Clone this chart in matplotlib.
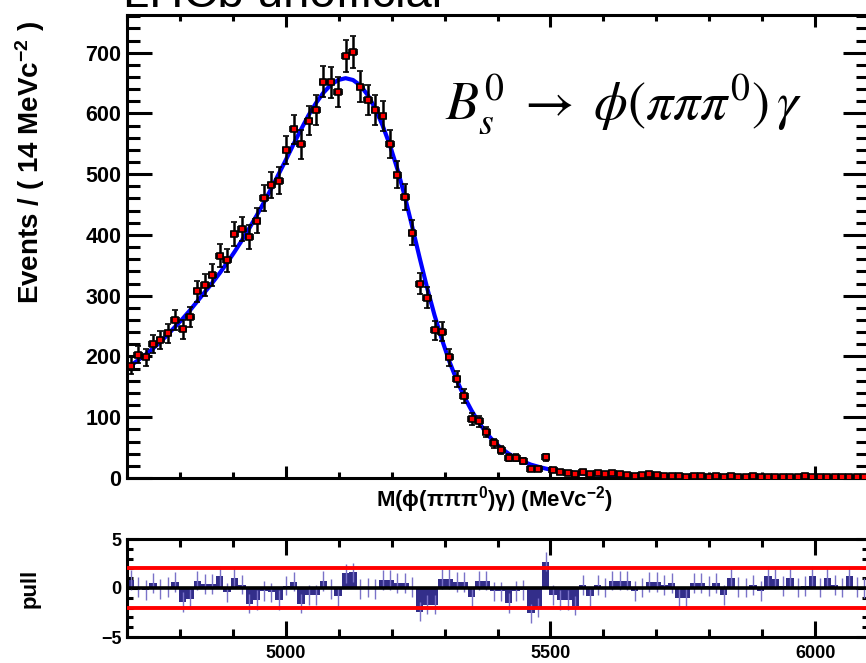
import matplotlib
matplotlib.use('Agg')
import matplotlib.pyplot as plt
import numpy as np
from matplotlib.ticker import MultipleLocator

# 100 bins of 14 MeV between 4700 and 6100
m_lo, m_hi, bin_w = 4700, 6100, 14

counts = [185, 203, 199, 221, 227, 238, 260, 245, 265, 307,
          318, 334, 366, 358, 402, 410, 397, 423, 461, 482,
          489, 540, 574, 549, 588, 606, 652, 651, 635, 694,
          701, 644, 622, 605, 596, 550, 499, 462, 404, 320,
          297, 243, 241, 199, 163, 135, 97, 93, 76, 57,
          46, 33, 33, 28, 15, 15, 34, 13, 10, 9,
          6, 10, 7, 8, 7, 8, 7, 5, 4, 5,
          6, 5, 3, 4, 3, 2, 4, 3, 2, 3,
          2, 3, 2, 1, 3, 2, 1, 2, 2, 1,
          2, 3, 2, 1, 2, 1, 2, 1, 1, 2]

fit = [185, 194, 203, 213, 224, 236, 249, 262, 276, 291,
       306, 321, 337, 354, 372, 391, 411, 432, 454, 477,
       501, 525, 550, 574, 597, 617, 634, 647, 655, 658,
       655, 646, 630, 608, 580, 547, 508, 463, 413, 362,
       313, 268, 228, 192, 161, 134, 111, 91, 74, 60,
       49, 40, 33, 27, 22, 18.5, 15.5, 13, 11, 9.5,
       8.3, 7.3, 6.5, 5.8, 5.2, 4.7, 4.3, 3.9, 3.6, 3.3,
       3.1, 2.9, 2.7, 2.5, 2.4, 2.2, 2.1, 2.0, 1.9, 1.8,
       1.7, 1.6, 1.55, 1.5, 1.45, 1.4, 1.35, 1.3, 1.25, 1.2,
       1.15, 1.1, 1.1, 1.05, 1.0, 1.0, 0.95, 0.95, 0.9, 0.9]

pulls = [0.8, 0.1, -0.2, 0.5, -0.1, 0.1, 0.6, -1.4, -1.1, 0.75,
         0.4, 0.4, 1.2, -0.45, 1.0, 0.35, -1.6, -1.2, -0.3, -0.45,
         -1.2, 0.25, 0.65, -1.6, -0.7, -0.7, 0.7, -0.1, -0.85, 1.5,
         1.6, -0.1, 0.05, -0.1, 0.8, 0.8, 0.5, 0.5, 0.1, -2.4,
         -1.7, -1.7, 0.9, 0.9, 0.6, 0.6, -0.9, 0.75, 0.75, -0.35,
         -0.35, -1.5, -0.3, -0.2, -2.6, -2.0, 2.7, -0.7, -1.2, -1.2,
         -1.8, 0.3, -0.85, 0.3, 0.05, 0.75, 0.75, 0.75, -0.3, 0.05,
         0.6, 0.6, 0.3, 0.5, -1.0, -1.0, 0.5, 0.5, 0.2, 0.5,
         -0.7, 1.0, 0.1, 0.05, 0.3, -0.3, 1.2, 0.9, 0.2, 1.0,
         0.05, 0.2, 1.2, 0.05, 1.0, 0.3, 0.05, 1.2, 0.1, 0.0]

counts = np.array(counts, dtype=float)
pulls = np.array(pulls)
centers = m_lo + bin_w * (np.arange(len(counts)) + 0.5)

plt.rcParams['font.family'] = ['Liberation Sans', 'DejaVu Sans']
plt.rcParams['mathtext.fontset'] = 'custom'
plt.rcParams['mathtext.rm'] = 'Liberation Sans:bold'
plt.rcParams['mathtext.it'] = 'Liberation Sans:bold'
plt.rcParams['mathtext.bf'] = 'Liberation Sans:bold'

W, H = 866, 663
fig = plt.figure(figsize=(W / 100, H / 100), dpi=100)
ax = fig.add_axes([127 / W, 185 / H, 741 / W, 463 / H])
ax2 = fig.add_axes([127 / W, 26 / H, 741 / W, 98 / H])

# main panel
ax.plot(centers, fit, color='blue', lw=3, zorder=2)
ax.errorbar(centers, counts, yerr=np.sqrt(counts), xerr=bin_w / 2, fmt='s',
            ms=4.5, mfc='red', mec='black', mew=1.2, ecolor='black',
            elinewidth=1.8, capsize=2.5, capthick=1.8, zorder=3)
ax.set_xlim(m_lo, m_hi)
ax.set_ylim(0, 762)
ax.yaxis.set_major_locator(MultipleLocator(100))
ax.yaxis.set_minor_locator(MultipleLocator(20))
ax.xaxis.set_major_locator(MultipleLocator(500))
ax.xaxis.set_minor_locator(MultipleLocator(100))
ax.tick_params(axis='both', which='both', direction='in', top=True, right=True, width=2.2)
ax.tick_params(axis='y', which='major', length=18, labelsize=15.5, pad=4)
ax.tick_params(axis='y', which='minor', length=9)
ax.tick_params(axis='x', which='major', length=8.6, labelbottom=False)
ax.tick_params(axis='x', which='minor', length=4.3)
for lbl in ax.get_yticklabels():
    lbl.set_fontweight('bold')
for s in ax.spines.values():
    s.set_linewidth(2.2)

fig.text(445 / W, 1 - 119 / H,
         r'$B_{s}^{0}\;\rightarrow\;\phi(\pi\pi\pi^{0})\,\gamma$',
         fontsize=39, ha='left', va='baseline', math_fontfamily='stix')

fig.text(495 / W, 1 - 500 / H, r'M($\phi$($\pi\pi\pi^{0}$)$\gamma$) (MeVc$^{-2}$)',
         ha='center', va='center', fontsize=16, fontweight='bold')
fig.text(30 / W, 1 - 163 / H, r'Events / ( 14 MeVc$^{-2}$ )', rotation=90,
         ha='center', va='center', fontsize=20, fontweight='bold')
fig.text(123 / W, 1 - 7 / H, 'LHCb unofficial', ha='left', va='baseline', fontsize=34)

# pull panel
ax2.bar(centers, pulls, width=bin_w, color='#332e8a', linewidth=0, zorder=1)
ax2.vlines(centers, pulls - 1, pulls + 1, color='#7a72c8', lw=1, zorder=2)
ax2.axhline(2, color='red', lw=2.8, zorder=3)
ax2.axhline(-2, color='red', lw=2.8, zorder=3)
ax2.axhline(0, color='black', lw=2.6, zorder=3)
ax2.set_xlim(m_lo, m_hi)
ax2.set_ylim(-5, 5)
ax2.yaxis.set_major_locator(MultipleLocator(5))
ax2.yaxis.set_minor_locator(MultipleLocator(1))
ax2.xaxis.set_major_locator(MultipleLocator(500))
ax2.xaxis.set_minor_locator(MultipleLocator(100))
ax2.tick_params(axis='both', which='both', direction='in', top=True, right=True, width=2.2)
ax2.tick_params(axis='x', which='major', length=11.5, labelsize=13, pad=6)
ax2.tick_params(axis='x', which='minor', length=5.8)
ax2.tick_params(axis='y', which='major', length=8.6, labelsize=13, pad=4)
ax2.tick_params(axis='y', which='minor', length=4.3)
for lbl in ax2.get_xticklabels() + ax2.get_yticklabels():
    lbl.set_fontweight('bold')
for s in ax2.spines.values():
    s.set_linewidth(2.2)
fig.text(30 / W, 1 - 588 / H, 'pull', rotation=90, ha='center', va='center',
         fontsize=16, fontweight='bold')

fig.savefig('out.png', dpi=100)
